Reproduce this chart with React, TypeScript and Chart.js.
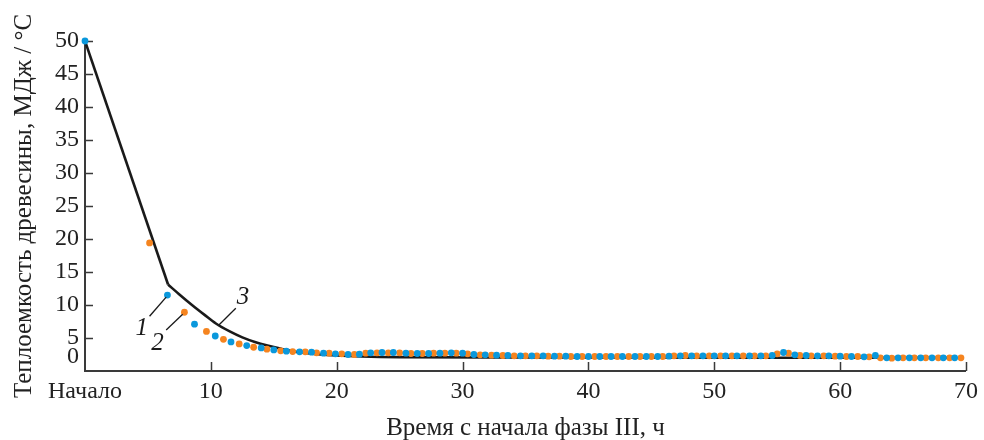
import { useEffect, useRef } from "react";
import { Chart, registerables } from "chart.js";

Chart.register(...registerables);

// ---- Data ----
const xTickValues = [0, 10, 20, 30, 40, 50, 60, 70];
const xTickLabels = ["Начало", "10", "20", "30", "40", "50", "60", "70"];
const yTickValues = [2.1, 5, 10, 15, 20, 25, 30, 35, 40, 45, 50];
const yTickLabels = ["0", "5", "10", "15", "20", "25", "30", "35", "40", "45", "50"];

const xTitle = "Время с начала фазы III, ч";
const yTitle = "Теплоемкость древесины, МДж / °С";

// Series 1 (blue dots): [time, value]
const series1Points: [number, number][] = [
  [0, 50], [6.55, 11.5], [8.7, 7.1], [10.35, 5.3], [11.6, 4.4], [12.85, 3.85],
  [14.0, 3.5], [15.0, 3.2], [16.0, 3.0], [17.05, 2.9], [18.0, 2.85], [18.95, 2.7], [19.9, 2.6],
  [20.9, 2.5], [21.8, 2.55], [22.7, 2.75], [23.6, 2.8], [24.5, 2.8], [25.5, 2.7],
  [26.4, 2.65], [27.3, 2.65], [28.2, 2.7], [29.1, 2.75], [30.0, 2.7], [30.9, 2.5],
  [31.8, 2.45], [32.7, 2.4], [33.6, 2.35], [34.6, 2.3], [35.5, 2.3], [36.4, 2.3],
  [37.3, 2.25], [38.2, 2.25], [39.1, 2.2], [40.0, 2.2], [40.9, 2.2], [41.8, 2.2],
  [42.7, 2.2], [43.7, 2.2], [44.6, 2.2], [45.5, 2.2], [46.4, 2.25], [47.3, 2.3],
  [48.2, 2.3], [49.1, 2.3], [50.0, 2.3], [50.9, 2.3], [51.8, 2.3], [52.8, 2.3],
  [53.7, 2.3], [54.6, 2.35], [55.5, 2.8], [56.4, 2.45], [57.3, 2.35], [58.2, 2.3],
  [59.1, 2.3], [60.0, 2.25], [60.9, 2.2], [61.9, 2.15], [62.8, 2.35], [63.7, 2.0],
  [64.6, 2.0], [65.5, 2.0], [66.4, 2.0], [67.3, 2.0], [68.2, 2.0], [69.1, 2.0],
];

// Series 2 (orange dots): [time, value]
const series2Points: [number, number][] = [
  [5.13, 19.4], [7.9, 8.9], [9.65, 6.0], [11.0, 4.8], [12.25, 4.1], [13.4, 3.6],
  [14.45, 3.3], [15.55, 3.05], [16.5, 2.95], [17.5, 2.9], [18.4, 2.75], [19.4, 2.7], [20.4, 2.6],
  [21.4, 2.5], [22.3, 2.7], [23.2, 2.75], [24.1, 2.75], [25.0, 2.75], [25.9, 2.65],
  [26.8, 2.65], [27.7, 2.7], [28.6, 2.7], [29.5, 2.7], [30.4, 2.6], [31.4, 2.45],
  [32.3, 2.4], [33.2, 2.35], [34.1, 2.3], [35.0, 2.3], [35.9, 2.3], [36.8, 2.25],
  [37.7, 2.25], [38.6, 2.2], [39.5, 2.2], [40.5, 2.2], [41.4, 2.2], [42.3, 2.2],
  [43.2, 2.2], [44.1, 2.2], [45.0, 2.2], [45.9, 2.2], [46.8, 2.3], [47.7, 2.35],
  [48.6, 2.3], [49.6, 2.3], [50.5, 2.3], [51.4, 2.3], [52.3, 2.3], [53.2, 2.3],
  [54.1, 2.3], [55.0, 2.6], [55.9, 2.7], [56.8, 2.35], [57.7, 2.3], [58.7, 2.3],
  [59.6, 2.25], [60.5, 2.2], [61.4, 2.2], [62.3, 2.15], [63.2, 2.0], [64.1, 1.95],
  [65.0, 2.0], [65.9, 2.0], [66.8, 2.0], [67.8, 2.0], [68.7, 2.0], [69.6, 2.0],
];

// Curve 3 (black line): straight initial part, then smooth decay
const curve3Straight: [number, number][] = [[0, 50], [6.6, 13.1]];
const curve3Smooth: [number, number][] = [
  [6.6, 13.1], [7.5, 11.6], [8.5, 10.0], [9.5, 8.5], [10.4, 7.2], [11.5, 6.0],
  [12.5, 5.1], [13.5, 4.4], [14.5, 3.85], [15.6, 3.35], [16.5, 3.0], [17.5, 2.75],
  [18.5, 2.55], [20.0, 2.35], [22.0, 2.2], [25.0, 2.1], [35.0, 2.05], [69.0, 2.0],
];

// Curve labels with leader lines (data coordinates)
const curveLabels = [
  { text: "1", x: 4.5, y: 6.5, fromX: 5.13, fromY: 8.3, toX: 6.45, toY: 11.2 },
  { text: "2", x: 5.76, y: 4.2, fromX: 6.45, fromY: 6.2, toX: 7.76, toY: 8.6 },
  { text: "3", x: 12.55, y: 11.2, fromX: 10.6, fromY: 6.9, toX: 11.98, toY: 9.5 },
];

const BLUE = "#0a98dc";
const ORANGE = "#f5841f";
const AXIS = "#3a3a3a";
const FONT = "'Liberation Serif', 'Times New Roman', serif";

const toXY = (pts: [number, number][]) => pts.map(([x, y]) => ({ x, y }));

const decorPlugin = {
  id: "decor",
  beforeDatasetsDraw(chart: any) {
    const { ctx, chartArea, scales } = chart;
    const { left, right, top, bottom } = chartArea;
    ctx.save();
    ctx.strokeStyle = AXIS;
    ctx.lineWidth = 2;
    ctx.beginPath();
    ctx.moveTo(left, top);
    ctx.lineTo(left, bottom);
    ctx.lineTo(right, bottom);
    ctx.stroke();
    ctx.lineWidth = 1.5;
    ctx.beginPath();
    xTickValues.forEach((v, i) => {
      if (i === 0) return;
      const px = Math.round(scales.x.getPixelForValue(v)) + 0.5;
      ctx.moveTo(px, bottom);
      ctx.lineTo(px, bottom - 9);
    });
    yTickValues.forEach((v, i) => {
      if (i === 0) return;
      const py = Math.round(scales.y.getPixelForValue(v)) + 0.5;
      ctx.moveTo(left, py);
      ctx.lineTo(left + 8, py);
    });
    ctx.stroke();
    ctx.restore();
  },
  afterDatasetsDraw(chart: any) {
    const { ctx, scales } = chart;
    ctx.save();
    ctx.strokeStyle = "#1a1a1a";
    ctx.lineWidth = 1.3;
    ctx.fillStyle = "#1a1a1a";
    ctx.font = `italic 25px ${FONT}`;
    ctx.textAlign = "center";
    ctx.textBaseline = "middle";
    curveLabels.forEach((c) => {
      ctx.beginPath();
      ctx.moveTo(scales.x.getPixelForValue(c.fromX), scales.y.getPixelForValue(c.fromY));
      ctx.lineTo(scales.x.getPixelForValue(c.toX), scales.y.getPixelForValue(c.toY));
      ctx.stroke();
      ctx.fillText(c.text, scales.x.getPixelForValue(c.x), scales.y.getPixelForValue(c.y));
    });
    ctx.restore();
  },
};

export default function App() {
  const ref = useRef<HTMLCanvasElement>(null);
  useEffect(() => {
    document.body.style.margin = "0";
    Chart.defaults.font.family = FONT;
    Chart.defaults.color = "#222";
    const chart = new Chart(ref.current!, {
      type: "scatter",
      data: {
        datasets: [
          {
            label: "1",
            data: toXY(series1Points),
            backgroundColor: BLUE,
            borderWidth: 0,
            pointRadius: 3.4,
            showLine: false,
            order: 0,
            clip: false as any,
          },
          {
            label: "2",
            data: toXY(series2Points),
            backgroundColor: ORANGE,
            borderWidth: 0,
            pointRadius: 3.4,
            showLine: false,
            order: 0,
            clip: false as any,
          },
          {
            label: "3a",
            data: toXY(curve3Straight),
            borderColor: "#1a1a1a",
            borderWidth: 2.6,
            pointRadius: 0,
            showLine: true,
            tension: 0,
            order: 1,
          },
          {
            label: "3b",
            data: toXY(curve3Smooth),
            borderColor: "#1a1a1a",
            borderWidth: 2.6,
            pointRadius: 0,
            showLine: true,
            cubicInterpolationMode: "monotone",
            order: 1,
          },
        ],
      },
      options: {
        responsive: false,
        animation: false,
        layout: { padding: { top: 41, right: 12, left: 0, bottom: 0 } },
        plugins: { legend: { display: false }, tooltip: { enabled: false } },
        scales: {
          x: {
            type: "linear",
            min: 0,
            max: 70,
            afterFit: (s: any) => { s.height = 69; },
            afterBuildTicks: (s: any) => { s.ticks = xTickValues.map((v) => ({ value: v })); },
            grid: { display: false, drawTicks: false },
            border: { display: false },
            ticks: {
              autoSkip: false,
              maxRotation: 0,
              padding: 6,
              font: { size: 24, family: FONT },
              color: "#222",
              callback: (_v: any, i: number) => xTickLabels[i],
            },
            title: {
              display: true,
              text: xTitle,
              font: { size: 25, family: FONT },
              color: "#222",
              padding: { top: 0, bottom: -3 },
            },
          },
          y: {
            type: "linear",
            min: 0,
            max: 50,
            afterFit: (s: any) => { s.width = 85; },
            afterBuildTicks: (s: any) => { s.ticks = yTickValues.map((v) => ({ value: v })); },
            grid: { display: false, drawTicks: false },
            border: { display: false },
            ticks: {
              autoSkip: false,
              padding: 6,
              font: { size: 24, family: FONT },
              color: "#222",
              callback: (_v: any, i: number) => yTickLabels[i],
            },
            title: {
              display: true,
              text: yTitle,
              font: { size: 25, family: FONT },
              color: "#222",
              padding: { top: 9, bottom: 0 },
            },
          },
        },
      },
      plugins: [decorPlugin],
    });
    return () => chart.destroy();
  }, []);
  return (
    <div style={{ width: 984, height: 440 }}>
      <canvas ref={ref} width={984} height={440} style={{ display: "block" }} />
    </div>
  );
}
